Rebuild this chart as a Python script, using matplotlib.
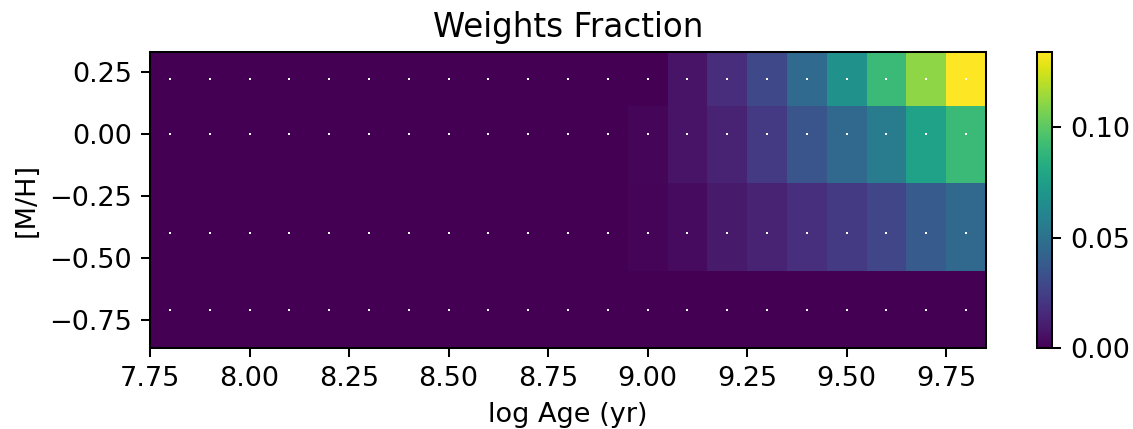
import numpy as np
import matplotlib
matplotlib.use("Agg")
import matplotlib.pyplot as plt

# Grid of the stellar population models
log_ages = [7.8, 7.9, 8.0, 8.1, 8.2, 8.3, 8.4, 8.5, 8.6, 8.7, 8.8,
            8.9, 9.0, 9.1, 9.2, 9.3, 9.4, 9.5, 9.6, 9.7, 9.8]
metals = [-0.71, -0.40, 0.00, 0.22]

# Weights (one list per metallicity, ages left to right)
w_m071 = [0, 0, 0, 0, 0, 0, 0, 0, 0, 0, 0,
          0, 0, 0, 0, 0, 0, 0, 0, 0, 0]
w_m040 = [0, 0, 0, 0, 0, 0, 0, 0, 0, 0, 0,
          0, 0.0012, 0.004, 0.009, 0.013, 0.018, 0.022, 0.028, 0.038, 0.045]
w_p000 = [0, 0, 0, 0, 0, 0, 0, 0, 0, 0, 0,
          0, 0.002, 0.007, 0.013, 0.022, 0.035, 0.045, 0.056, 0.077, 0.091]
w_p022 = [0, 0, 0, 0, 0, 0, 0, 0, 0, 0, 0,
          0, 0.0005, 0.007, 0.017, 0.029, 0.046, 0.067, 0.091, 0.111, 0.134]

x_ticks = [7.75, 8.00, 8.25, 8.50, 8.75, 9.00, 9.25, 9.50, 9.75]
y_ticks = [-0.75, -0.50, -0.25, 0.00, 0.25]
cbar_ticks = [0.00, 0.05, 0.10]

weights = np.array([w_m071, w_m040, w_p000, w_p022])
ages = np.array(log_ages)
mets = np.array(metals)

def edges(v):
    v = np.asarray(v, float)
    mid = (v[1:] + v[:-1]) / 2
    first = v[0] - (mid[0] - v[0])
    last = v[-1] + (v[-1] - mid[-1])
    return np.concatenate([[first], mid, [last]])

xe = edges(ages)
ye = edges(mets)

plt.rcParams['font.size'] = 10.7
dpi = 183
fig = plt.figure(figsize=(1133 / dpi, 429 / dpi), dpi=dpi)
ax = fig.add_axes([150 / 1133, 81 / 429, 836 / 1133, 296 / 429])
pc = ax.pcolormesh(xe, ye, weights, cmap="viridis", vmin=0, vmax=weights.max())
X, Y = np.meshgrid(ages, mets)
ax.plot(X.ravel(), Y.ravel(), 's', color='w', ms=0.8, mew=0, linestyle='none')
ax.set_xlim(xe[0], xe[-1])
ax.set_ylim(ye[0], ye[-1])
ax.set_xticks(x_ticks)
ax.set_yticks(y_ticks)
ax.set_xticklabels(["%.2f" % t for t in x_ticks])
ax.set_yticklabels(["%.2f" % t if t >= 0 else "\u2212%.2f" % -t for t in y_ticks])
ax.set_xlabel("log Age (yr)")
ax.set_ylabel("[M/H]")
ax.set_title("Weights Fraction", fontsize=12.8)

cax = fig.add_axes([1037 / 1133, 81 / 429, 15 / 1133, 296 / 429])
cb = fig.colorbar(pc, cax=cax, ticks=cbar_ticks)
cb.ax.set_yticklabels(["%.2f" % t for t in cbar_ticks])

fig.savefig("out.png", dpi=dpi)
